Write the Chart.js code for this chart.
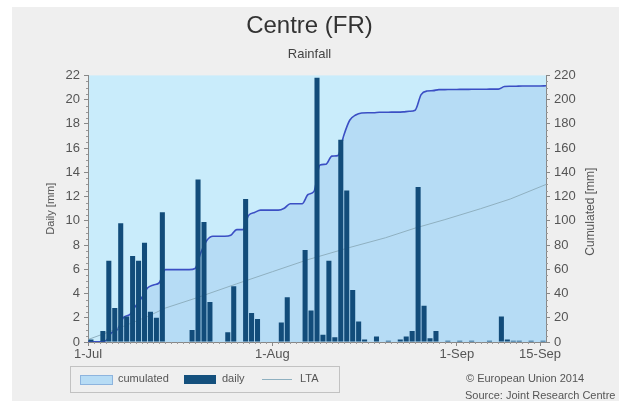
<!DOCTYPE html>
<html>
<head>
<meta charset="utf-8">
<script src="https://cdn.jsdelivr.net/npm/chart.js@4.4.0/dist/chart.umd.min.js"></script>
<style>
  body { margin: 0; background: #fff; font-family: "Liberation Sans", Arial, sans-serif; }
  #wrap { position: relative; width: 619px; height: 403px; }
  #panel { position: absolute; left: 12px; top: 7px; width: 607px; height: 394px; background: #efefef; }
  #c { position: absolute; left: 0; top: 0; }
  .legend { position: absolute; left: 70px; top: 366px; width: 270px; height: 27px; border: 1px solid #c2c2c2; box-sizing: border-box; font-size: 11px; color: #555; }
  .legend span { position: absolute; }
  .credit { position: absolute; font-size: 11px; color: #555; white-space: nowrap; }
</style>
</head>
<body>
<div id="wrap">
  <div id="panel"></div>
  <canvas id="c" width="619" height="403"></canvas>
  <div class="legend">
    <span style="left:9px;top:8px;width:31px;height:8px;background:#b7dcf5;border:1px solid #8db4de;"></span>
    <span style="left:47px;top:5px;">cumulated</span>
    <span style="left:113px;top:8px;width:32px;height:9px;background:#14507d;"></span>
    <span style="left:151px;top:5px;">daily</span>
    <span style="left:191px;top:12px;width:30px;height:1px;background:#8fb0c0;"></span>
    <span style="left:229px;top:5px;">LTA</span>
  </div>
  <div class="credit" style="left:466px;top:372px;">© European Union 2014</div>
  <div class="credit" style="left:465px;top:389px;">Source: Joint Research Centre</div>
</div>
<script>
// days counted from 1-Jul (0) to 15-Sep (76)
const tickDays = [0, 31, 62, 76];
const tickLabels = ['1-Jul', '1-Aug', '1-Sep', '15-Sep'];

// daily rainfall [mm], one value per day
const daily = [
  0.2, 0, 0.9, 6.7, 2.8, 9.8, 2.1, 7.1, 6.7, 8.2,
  2.5, 2.0, 10.7, 0, 0, 0, 0, 1.0, 13.4, 9.9,
  3.3, 0, 0, 0.8, 4.6, 0, 11.8, 2.4, 1.9, 0,
  0, 0, 1.6, 3.7, 0, 0, 7.6, 2.6, 21.8, 0.6,
  6.7, 0.4, 16.7, 12.5, 4.3, 1.7, 0.2, 0, 0.45, 0,
  0.1, 0, 0.2, 0.45, 0.9, 12.8, 3.0, 0.3, 0.9, 0,
  0.1, 0, 0.1, 0, 0.1, 0, 0, 0.1, 0, 2.1,
  0.2, 0.1, 0.1, 0, 0.1, 0, 0.1
];

// cumulated rainfall [mm] at the end of each day
const cumulated = [
  0.2, 0.2, 1.1, 7.8, 10.6, 20.4, 22.5, 29.6, 36.3, 44.5,
  47.0, 49.0, 59.7, 59.7, 59.7, 59.7, 59.7, 60.7, 74.1, 84.0,
  87.3, 87.3, 87.3, 88.1, 92.7, 92.7, 104.5, 106.9, 108.8, 108.8,
  108.8, 108.8, 110.4, 114.1, 114.1, 114.1, 121.7, 124.3, 146.1, 146.7,
  153.4, 153.8, 170.5, 183.0, 187.3, 189.0, 189.2, 189.2, 189.6, 189.6,
  189.7, 189.7, 189.9, 190.4, 191.3, 204.1, 207.1, 207.4, 208.3, 208.3,
  208.4, 208.4, 208.5, 208.5, 208.6, 208.6, 208.6, 208.7, 208.7, 210.8,
  211.0, 211.1, 211.2, 211.2, 211.3, 211.3, 211.4
];

// long term average (cumulated) [mm]
const ltaDays = [0, 5, 10, 13, 18, 25, 31, 37, 44, 50, 55, 60, 66, 71, 77];
const ltaValues = [2, 11, 21, 28, 36, 48, 58, 68, 78, 86, 94, 101, 110, 118, 130];

const barData = daily.map((v, i) => ({ x: i + 0.5, y: v }));
const cumData = [{ x: 0, y: 0 }].concat(cumulated.map((v, i) => ({ x: i + 1, y: v })));
const ltaData = ltaDays.map((d, i) => ({ x: d, y: ltaValues[i] }));

const plotBg = {
  id: 'plotBg',
  beforeDraw(chart) {
    const { ctx, chartArea: a } = chart;
    ctx.save();
    ctx.fillStyle = '#c9ecfb';
    ctx.fillRect(a.left, a.top, a.right - a.left, a.bottom - a.top);
    ctx.restore();
  }
};

const extras = {
  id: 'extras',
  afterDraw(chart) {
    const { ctx, chartArea: a, scales } = chart;
    ctx.save();
    ctx.strokeStyle = '#999';
    ctx.lineWidth = 1;
    ctx.beginPath();
    for (let v = 0.5; v < 22; v += 0.5) {
      if (v % 2 === 0) continue;
      const p = Math.round(scales.y.getPixelForValue(v)) + 0.5;
      ctx.moveTo(a.left - 2, p); ctx.lineTo(a.left, p);
    }
    for (let v = 5; v < 220; v += 5) {
      if (v % 20 === 0) continue;
      const p = Math.round(scales.y1.getPixelForValue(v)) + 0.5;
      ctx.moveTo(a.right, p); ctx.lineTo(a.right + 2, p);
    }
    for (let d = 1; d < 77; d++) {
      if (tickDays.includes(d)) continue;
      const p = Math.round(scales.x.getPixelForValue(d)) + 0.5;
      ctx.moveTo(p, a.bottom); ctx.lineTo(p, a.bottom + 2);
    }
    ctx.stroke();
    // right axis title, reading bottom to top
    ctx.translate(591, (a.top + a.bottom) / 2 + 3);
    ctx.rotate(-Math.PI / 2);
    ctx.fillStyle = '#555';
    ctx.font = '12px "Liberation Sans", Arial, sans-serif';
    ctx.textAlign = 'center';
    ctx.textBaseline = 'middle';
    ctx.fillText('Cumulated [mm]', 0, 0);
    ctx.restore();
  }
};

const font = '"Liberation Sans", Arial, sans-serif';

new Chart(document.getElementById('c'), {
  type: 'bar',
  data: {
    datasets: [
      {
        type: 'bar',
        label: 'daily',
        data: barData,
        yAxisID: 'y',
        backgroundColor: '#124c7a',
        categoryPercentage: 1,
        barPercentage: 0.85,
        order: 0
      },
      {
        type: 'line',
        label: 'LTA',
        data: ltaData,
        yAxisID: 'y1',
        borderColor: '#8fb0c0',
        borderWidth: 1,
        pointRadius: 0,
        fill: false,
        order: 1
      },
      {
        type: 'line',
        label: 'cumulated',
        data: cumData,
        yAxisID: 'y1',
        borderColor: '#3b4fc4',
        borderWidth: 1.6,
        backgroundColor: '#b6dcf5',
        pointRadius: 0,
        cubicInterpolationMode: 'monotone',
        fill: 'origin',
        order: 2
      }
    ]
  },
  options: {
    responsive: false,
    animation: false,
    layout: { padding: 0 },
    plugins: {
      legend: { display: false },
      tooltip: { enabled: false },
      title: {
        display: true,
        text: 'Centre (FR)',
        color: '#333',
        font: { size: 24, family: font, weight: 'normal' },
        padding: { top: 12, bottom: 4 }
      },
      subtitle: {
        display: true,
        text: 'Rainfall',
        color: '#444',
        font: { size: 13, family: font },
        padding: { top: 2, bottom: 13 }
      }
    },
    scales: {
      x: {
        type: 'linear',
        min: 0,
        max: 77,
        offset: false,
        afterBuildTicks: s => { s.ticks = tickDays.map(v => ({ value: v })); },
        afterFit: s => { s.height = 61; },
        ticks: {
          autoSkip: false,
          maxRotation: 0,
          padding: 1,
          color: '#555',
          font: { size: 13, family: font },
          callback: v => tickLabels[tickDays.indexOf(v)]
        },
        grid: { drawOnChartArea: false, tickLength: 4, color: '#888', offset: false },
        border: { color: '#888' }
      },
      y: {
        position: 'left',
        min: 0,
        max: 22,
        afterFit: s => { s.width = 88; },
        ticks: { stepSize: 2, padding: 4, color: '#555', font: { size: 13, family: font } },
        grid: { drawOnChartArea: false, tickLength: 4, color: '#888' },
        border: { color: '#888' },
        title: {
          display: true,
          text: 'Daily [mm]',
          color: '#555',
          font: { size: 11, family: font },
          padding: { top: 44 }
        }
      },
      y1: {
        position: 'right',
        min: 0,
        max: 220,
        afterFit: s => { s.width = 73; },
        ticks: { stepSize: 20, padding: 4, color: '#555', font: { size: 13, family: font } },
        grid: { drawOnChartArea: false, tickLength: 4, color: '#888' },
        border: { color: '#888' }
      }
    }
  },
  plugins: [plotBg, extras]
});
</script>
</body>
</html>
